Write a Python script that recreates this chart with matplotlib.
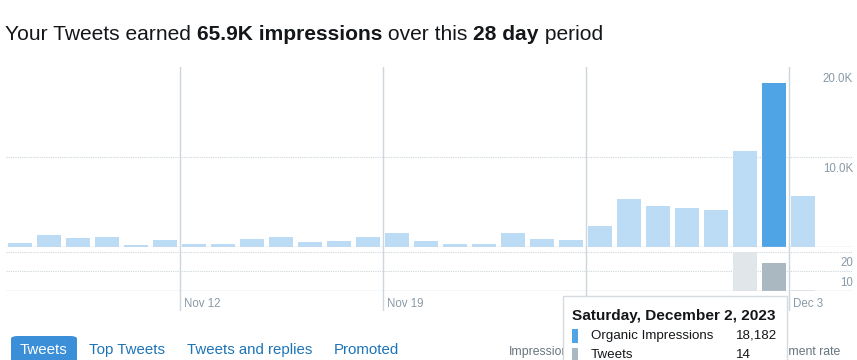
import matplotlib
matplotlib.use("Agg")
import matplotlib.pyplot as plt
import matplotlib.transforms as mtransforms
from matplotlib.patches import Rectangle, FancyBboxPatch

plt.rcParams['font.family'] = ['Liberation Sans', 'DejaVu Sans']

# daily data, Nov 6 .. Dec 3 (28 days)
days = list(range(28))
impressions = [400, 1300, 970, 1080, 190, 740, 300, 300, 850, 1080, 520, 630, 1080, 1520,
               630, 300, 300, 1520, 850, 740, 2300, 5300, 4520, 4300, 4080, 10630, 18182, 5630]
tweets = [0] * 25 + [20, 14, 0.6]
date_ticks = [6, 13, 20, 27]
date_labels = ['Nov 12', 'Nov 19', '', 'Dec 3']
imp_ticks = [10000, 20000]
imp_tick_labels = ['10.0K', '20.0K']
tw_ticks = [10, 20]
tw_tick_labels = ['10', '20']
highlight = 26

W, H = 857, 360
fig = plt.figure(figsize=(W / 100, H / 100), dpi=100)

def px_axes(x0, y0, x1, y1):
    # y measured from the top of the picture
    return fig.add_axes([x0 / W, 1 - y1 / H, (x1 - x0) / W, (y1 - y0) / H])

XL, XR = 5.5, 853
xmax = (XR - XL) / 29.0

light_blue = '#bcdcf5'
dark_blue = '#4ea4e5'
grid_c = '#ccd6dd'
label_c = '#8899a6'

# vertical date lines in their own axes behind the bars
axv = px_axes(XL, 66.7, XR, 311)
axv.set_xlim(0, xmax)
axv.set_ylim(0, 1)
axv.axis('off')
for d in date_ticks:
    axv.axvline(d, color=grid_c, lw=1.0)

# impressions panel
ax = px_axes(XL, 66.7, XR, 246.7)
ax.set_xlim(0, xmax)
ax.set_ylim(0, 20000)
ax.patch.set_alpha(0)
cols = [dark_blue if i == highlight else light_blue for i in days]
ax.bar([d + 0.5 for d in days], impressions, width=0.86, color=cols, zorder=2)
for s in ax.spines.values():
    s.set_visible(False)
ax.set_xticks([])
ax.set_yticks([])
ax.axhline(0, color=grid_c, lw=1.0, zorder=3)
ax.axhline(10000, color=grid_c, lw=0.8, ls=(0, (1, 1)), zorder=1)
tr = mtransforms.offset_copy(ax.get_yaxis_transform(), fig=fig, x=0, y=-12.5, units='dots')
for v, lab in zip(imp_ticks, imp_tick_labels):
    ax.text(1.0, v, lab, transform=tr, ha='right', va='center', fontsize=8.3, color=label_c)

# tweets panel
ax2 = px_axes(XL, 251.7, XR, 291)
ax2.set_xlim(0, xmax)
ax2.set_ylim(0, 20)
ax2.patch.set_alpha(0)
tcols = ['#e1e6eb'] * 28
tcols[highlight] = '#aab8c2'
ax2.bar([d + 0.5 for d in days], tweets, width=0.86, color=tcols, zorder=2)
for s in ax2.spines.values():
    s.set_visible(False)
ax2.set_xticks([])
ax2.set_yticks([])
ax2.axhline(0, color=grid_c, lw=1.0, zorder=3)
for v in tw_ticks:
    ax2.axhline(v, color=grid_c, lw=0.8, ls=(0, (1, 1)), zorder=1)
tr2 = mtransforms.offset_copy(ax2.get_yaxis_transform(), fig=fig, x=0, y=-11.5, units='dots')
for v, lab in zip(tw_ticks, tw_tick_labels):
    ax2.text(1.0, v, lab, transform=tr2, ha='right', va='center', fontsize=8.3, color=label_c)
trx = mtransforms.offset_copy(ax2.get_xaxis_transform(), fig=fig, x=4.5, y=0, units='dots')
for d, lab in zip(date_ticks, date_labels):
    ax2.text(d, -0.33, lab, transform=trx, ha='left', va='center', fontsize=8.3,
             color=label_c, clip_on=False)

# title
def fx(x):
    return x / W

def fy(y):
    return 1 - y / H

title_parts = [('Your Tweets earned ', 'normal'), ('65.9K impressions', 'bold'),
               (' over this ', 'normal'), ('28 day', 'bold'), (' period', 'normal')]
fig.canvas.draw()
r = fig.canvas.get_renderer()
x = 5
for txt, wt in title_parts:
    t = fig.text(fx(x), fy(34), txt, fontsize=15.1, fontweight=wt, color='#14171a',
                 va='center', ha='left')
    bb = t.get_window_extent(renderer=r)
    x += bb.width

# tabs
tab = FancyBboxPatch((fx(11), fy(364)), fx(77) - fx(11), fy(336) - fy(364),
                     boxstyle='round,pad=0,rounding_size=0.008', transform=fig.transFigure,
                     facecolor='#3b8fd8', edgecolor='none')
fig.patches.append(tab)
fig.text(fx(44), fy(350), 'Tweets', fontsize=10.9, color='white', ha='center', va='center')
for tx, lab in [(89, 'Top Tweets'), (187, 'Tweets and replies'), (334, 'Promoted')]:
    fig.text(fx(tx), fy(350), lab, fontsize=10.8, color='#1b74b8', ha='left', va='center')
fig.text(fx(509), fy(352), 'Impressions', fontsize=8.8, color='#66757f', ha='left', va='center')
fig.text(fx(840), fy(352), 'Engagement rate', fontsize=8.8, color='#66757f', ha='right', va='center')

# tooltip
tip = Rectangle((fx(563), fy(370)), fx(787) - fx(563), fy(296) - fy(370),
                transform=fig.transFigure, facecolor='white', edgecolor='#d6dbdf', lw=1.0, zorder=10)
fig.patches.append(tip)
fig.text(fx(572), fy(316), 'Saturday, December 2, 2023', fontsize=11.1, fontweight='bold',
         color='#14171a', ha='left', va='center', zorder=11)
fig.patches.append(Rectangle((fx(572), fy(343)), fx(6), fy(329) - fy(343), transform=fig.transFigure,
                             facecolor=dark_blue, edgecolor='none', zorder=11))
fig.patches.append(Rectangle((fx(572), fy(362)), fx(6), fy(348) - fy(362), transform=fig.transFigure,
                             facecolor='#aab8c2', edgecolor='none', zorder=11))
fig.text(fx(591), fy(336), 'Organic Impressions', fontsize=9.6, color='#14171a', ha='left', va='center', zorder=11)
fig.text(fx(736), fy(336), '{:,}'.format(impressions[highlight]), fontsize=9.6, color='#14171a',
         ha='left', va='center', zorder=11)
fig.text(fx(591), fy(355), 'Tweets', fontsize=9.6, color='#14171a', ha='left', va='center', zorder=11)
fig.text(fx(736), fy(355), str(int(tweets[highlight])), fontsize=9.6, color='#14171a',
         ha='left', va='center', zorder=11)

fig.savefig('out.png', dpi=100, facecolor='white')
